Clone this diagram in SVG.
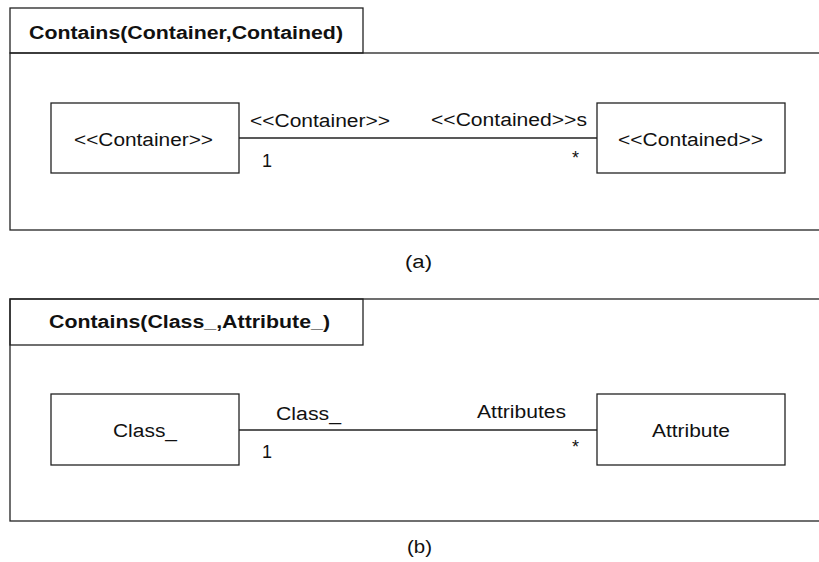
<svg xmlns="http://www.w3.org/2000/svg" width="819" height="562" viewBox="0 0 819 562">
<style>
.frm{fill:none;stroke:#222;stroke-width:1.3}
.box{fill:#fff;stroke:#222;stroke-width:1.3}
.ln{stroke:#222;stroke-width:1.3;fill:none}
text{font-family:"Liberation Sans",Arial,sans-serif;fill:#111}
.t{font-size:18px;font-weight:bold}
.n{font-size:18px}
</style>
<rect width="819" height="562" fill="#fff"/>
<g id="frame-a">
<rect class="frm" x="10" y="53" width="830" height="177"/>
<rect class="frm" x="10" y="8" width="353" height="45"/>
<text class="t" x="29" y="39" textLength="314" lengthAdjust="spacingAndGlyphs">Contains(Container,Contained)</text>
</g>
<g id="node-container">
<rect class="box" x="51" y="103" width="188" height="70"/>
<text class="n" x="74" y="146" textLength="139" lengthAdjust="spacingAndGlyphs">&lt;&lt;Container&gt;&gt;</text>
</g>
<g id="node-contained">
<rect class="box" x="597" y="103" width="188" height="70"/>
<text class="n" x="618" y="146" textLength="145" lengthAdjust="spacingAndGlyphs">&lt;&lt;Contained&gt;&gt;</text>
</g>
<text class="n" x="405" y="268" textLength="27" lengthAdjust="spacingAndGlyphs">(a)</text>
<g id="frame-b">
<rect class="frm" x="10" y="299" width="830" height="222"/>
<rect class="frm" x="10" y="299" width="353" height="46"/>
<text class="t" x="49" y="328" textLength="281" lengthAdjust="spacingAndGlyphs">Contains(Class_,Attribute_)</text>
</g>
<g id="node-class">
<rect class="box" x="51" y="394" width="188" height="71"/>
<text class="n" x="113" y="437" textLength="64" lengthAdjust="spacingAndGlyphs">Class_</text>
</g>
<g id="node-attribute">
<rect class="box" x="597" y="394" width="188" height="71"/>
<text class="n" x="652" y="437" textLength="78" lengthAdjust="spacingAndGlyphs">Attribute</text>
</g>
<text class="n" x="407" y="553" textLength="25" lengthAdjust="spacingAndGlyphs">(b)</text>
<g id="connectors">
<line class="ln" x1="239" y1="138" x2="597" y2="138"/>
<text class="n" x="250" y="127" textLength="140" lengthAdjust="spacingAndGlyphs">&lt;&lt;Container&gt;&gt;</text>
<text class="n" x="262" y="167">1</text>
<text class="n" x="431" y="126" textLength="156" lengthAdjust="spacingAndGlyphs">&lt;&lt;Contained&gt;&gt;s</text>
<text class="n" x="572" y="164">*</text>
<line class="ln" x1="239" y1="430" x2="597" y2="430"/>
<text class="n" x="276" y="420" textLength="65" lengthAdjust="spacingAndGlyphs">Class_</text>
<text class="n" x="262" y="458">1</text>
<text class="n" x="477" y="418" textLength="89" lengthAdjust="spacingAndGlyphs">Attributes</text>
<text class="n" x="572" y="453">*</text>
</g>
</svg>
